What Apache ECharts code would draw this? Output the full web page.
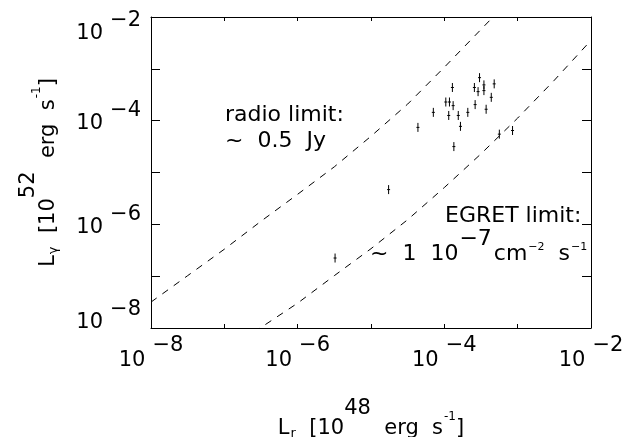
<!DOCTYPE html>
<html>
<head>
<meta charset="utf-8">
<title>L_gamma vs L_r</title>
<script src="https://cdn.jsdelivr.net/npm/echarts@6/dist/echarts.min.js"></script>
<style>
  html, body { margin: 0; padding: 0; background: #fff; }
  #chart { width: 633px; height: 437px; }
</style>
</head>
<body>
<div id="chart"></div>
<script>
// all values are log10
var lrExp = [-3.52, -3.89, -3.59, -3.46, -3.32, -3.54, -3.46, -3.36, -3.98, -3.93, -3.88, -3.58,
             -4.15, -3.94, -3.81, -3.68, -3.43, -3.78, -4.36, -3.25, -3.07, -3.87, -4.76, -5.49];
var lgExp = [-3.17, -3.36, -3.36, -3.31, -3.29, -3.44, -3.42, -3.55, -3.64, -3.64, -3.71, -3.69,
             -3.84, -3.90, -3.90, -3.84, -3.78, -4.11, -4.13, -4.26, -4.19, -4.50, -5.33, -6.65];

// radio limit (~0.5 Jy) curve
var radioX = [-8, -7.5, -7, -6.5, -6, -5.5, -5, -4.5, -4, -3.5, -3.2];
var radioY = [-7.50, -6.99, -6.48, -5.94, -5.42, -4.89, -4.30, -3.68, -2.97, -2.24, -1.80];

// EGRET limit curve
var egretX = [-6.6, -6.5, -6, -5.5, -5, -4.5, -4, -3.5, -3, -2.5, -2];
var egretY = [-8.08, -7.99, -7.52, -6.99, -6.47, -5.91, -5.29, -4.64, -3.95, -3.22, -2.45];

// labelled decades
var tickExp = [-8, -6, -4, -2];

function pow10(e) { return Math.pow(10, e); }
function pairs(xs, ys) {
    return xs.map(function (x, i) { return [pow10(x), pow10(ys[i])]; });
}

var FONT = 'DejaVu Sans';

function xLabel(v) {
    var e = Math.round(Math.log10(v));
    if (tickExp.indexOf(e) < 0) return '';
    return '{b|10}{e|\u2212' + Math.abs(e) + '}';
}
// the top and bottom y labels sit a little inside the frame
function yLabel(v) {
    var e = Math.round(Math.log10(v));
    if (tickExp.indexOf(e) < 0) return '';
    var k = e === -2 ? 'lo' : (e === -8 ? 'hi' : 'mid');
    return '{b' + k + '|10}{e' + k + '|\u2212' + Math.abs(e) + '}';
}

function tok(size, pad) {
    return { fontFamily: FONT, fontSize: size, lineHeight: size, color: '#000', padding: pad };
}

var xTickRich = { b: tok(21, [15, 4, 15, 0]), e: tok(21, [0, 0, 30, 3]) };
var yTickRich = {
    bmid: tok(21, [28, 4, 22, 0]), emid: tok(21, [15, 0, 35, 3]),
    blo: tok(21, [42, 4, 8, 0]), elo: tok(21, [29, 0, 21, 3]),
    bhi: tok(21, [20, 4, 30, 0]), ehi: tok(21, [7, 0, 43, 3])
};

var nameRich = {
    n: tok(21, [20, 0, 4, 0]),
    sup: tok(21, [0, 0, 24, 0]),
    sub: tok(13, [29, 0, 2, 1]),
    ss: tok(12, [12, 0, 20, 1])
};

var axisCommon = {
    type: 'log',
    logBase: 10,
    min: 1e-8,
    max: 1e-2,
    splitLine: { show: false },
    axisLine: { show: true, lineStyle: { color: '#000', width: 1 } }
};

var chart = echarts.init(document.getElementById('chart'));

chart.setOption({
    animation: false,
    backgroundColor: '#fff',
    grid: { left: 151, right: 42, top: 17, bottom: 109, containLabel: false, outerBoundsMode: 'none' },
    xAxis: [
        Object.assign({}, axisCommon, {
            position: 'bottom',
            axisTick: { inside: true, length: 4, lineStyle: { color: '#000' } },
            axisLabel: { formatter: xLabel, rich: xTickRich, margin: 22 },
            name: '{n|L}{sub|r}{n|  [10}{sup|48}{n|  erg  s}{ss|-1}{n|]}',
            nameLocation: 'middle',
            nameGap: 82,
            nameTextStyle: { rich: nameRich }
        }),
        Object.assign({}, axisCommon, {
            position: 'top',
            axisTick: { inside: true, length: 4, lineStyle: { color: '#000' } },
            axisLabel: { show: false }
        })
    ],
    yAxis: [
        Object.assign({}, axisCommon, {
            position: 'left',
            axisTick: { inside: true, length: 9, lineStyle: { color: '#000' } },
            axisLabel: { formatter: yLabel, rich: yTickRich, margin: 10 },
            name: '{n|L}{sub|\u03b3}{n|  [10}{sup|52}{n|  erg  s}{ss|-1}{n|]}',
            nameLocation: 'middle',
            nameGap: 100,
            nameTextStyle: { rich: nameRich }
        }),
        Object.assign({}, axisCommon, {
            position: 'right',
            axisTick: { inside: true, length: 9, lineStyle: { color: '#000' } },
            axisLabel: { show: false }
        })
    ],
    graphic: [
        { type: 'text', left: 225, top: 104,
          style: { text: 'radio limit:', font: '22px "DejaVu Sans"', fill: '#000' } },
        { type: 'text', left: 225, top: 130,
          style: { text: '~  0.5  Jy', font: '22px "DejaVu Sans"', fill: '#000' } },
        { type: 'text', left: 445, top: 205,
          style: { text: 'EGRET limit:', font: '22px "DejaVu Sans"', fill: '#000' } },
        { type: 'text', left: 370, top: 228,
          style: {
              text: '{n|~  1  10}{p|\u22127}{n|cm}{q|\u22122}{n|  s}{q|\u22121}',
              rich: {
                  n: { fontFamily: FONT, fontSize: 22, lineHeight: 22, fill: '#000', padding: [15, 0, 0, 0] },
                  p: { fontFamily: FONT, fontSize: 22, lineHeight: 22, fill: '#000', padding: [0, 2, 15, 1] },
                  q: { fontFamily: FONT, fontSize: 11, lineHeight: 11, fill: '#000', padding: [14, 0, 12, 1] }
              }
          } }
    ],
    series: [
        {
            name: 'radio limit',
            type: 'line',
            data: pairs(radioX, radioY),
            showSymbol: false,
            silent: true,
            clip: true,
            lineStyle: { color: '#000', width: 1, type: [7, 7] }
        },
        {
            name: 'EGRET limit',
            type: 'line',
            data: pairs(egretX, egretY),
            showSymbol: false,
            silent: true,
            clip: true,
            lineStyle: { color: '#000', width: 1, type: [7, 7] }
        },
        {
            name: 'sources',
            type: 'custom',
            data: pairs(lrExp, lgExp),
            silent: true,
            renderItem: function (params, api) {
                var p = api.coord([api.value(0), api.value(1)]);
                var st = { stroke: '#000', lineWidth: 1 };
                return {
                    type: 'group',
                    children: [
                        { type: 'line', shape: { x1: p[0], y1: p[1] - 4.5, x2: p[0], y2: p[1] + 4.5 }, style: st },
                        { type: 'line', shape: { x1: p[0] - 1.5, y1: p[1], x2: p[0] + 1.5, y2: p[1] }, style: st }
                    ]
                };
            }
        }
    ]
});
</script>
</body>
</html>
